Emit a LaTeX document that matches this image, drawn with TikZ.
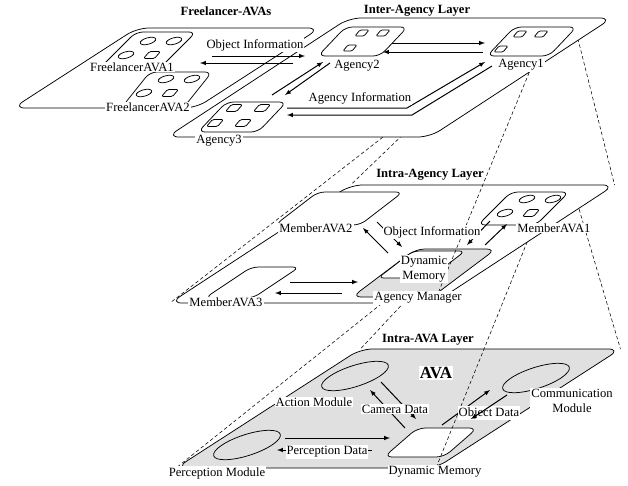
\documentclass[tikz,border=0pt]{standalone}
\usepackage{fontspec}
\setmainfont{Liberation Serif}
\usetikzlibrary{shapes.geometric}

\newcommand{\lblfont}{\fontsize{12.6}{15.5}\selectfont}
\newcommand{\ttlfont}{\fontsize{12.6}{15}\selectfont\bfseries}
\newcommand{\avafont}{\fontsize{17}{19}\selectfont\bfseries}

\tikzset{
  pics/slab/.style args={#1/#2/#3}{code={
      \coordinate (-bl) at (0,0);
      \coordinate (-br) at (#1,0);
      \coordinate (-tr) at ({#1+#2*#3},-#2);
      \coordinate (-tl) at ({#2*#3},-#2);
      \path[pic actions] (-bl) -- (-br) -- (-tr) -- (-tl) -- cycle;}},
  pics/cell/.style={code={
      \draw[rounded corners=1.2pt] (-7,3) -- (2,3) -- (7,-3) -- (-2,-3) -- cycle;}},
  pics/bigcell/.style={code={
      \draw[rounded corners=1.5pt] (-8.5,3.5) -- (2.5,3.5) -- (8.5,-3.5) -- (-2.5,-3.5) -- cycle;}},
  pics/avaicons/.style={code={
      \draw[rotate around={15:(0,0)}] (0,0) ellipse (8 and 3.2);
      \draw[rotate around={15:(26,0)}] (26,0) ellipse (8 and 3.2);
      \draw[rotate around={15:(-22,14)}] (-22,14) ellipse (8 and 3.2);
      \pic at (4,14) {bigcell};}}
}

\begin{document}
\begin{tikzpicture}[x=1pt, y=-1pt, line width=0.75pt,
    every node/.style={font=\lblfont, inner sep=1pt},
    lbl/.style={fill=white},
    ttl/.style={font=\ttlfont},
    arr/.style={-latex, line width=1pt},
    proj/.style={dash pattern=on 3.5pt off 2.5pt, line width=0.55pt},
    layerbox/.style={draw, fill=white, rounded corners=12pt},
    greybox/.style={draw, fill=black!12, rounded corners=12pt},
    agentbox/.style={draw, fill=white, rounded corners=7pt},
    modbox/.style={draw, ellipse, minimum width=70pt, minimum height=21pt, inner sep=0pt, rotate=18}]
  \useasboundingbox (0,0) rectangle (628,485);

  % intra-AVA layer
  \pic[greybox] (iav) at (176,468) {slab=260/119/1.55};
  \node[modbox] (act) at (355,376) {};
  \node[modbox] (per) at (247,445) {};
  \node[modbox] (com) at (536,378) {};
  \pic[agentbox, rounded corners=8pt] (dm) at (384,457) {slab=60/29/1.15};

  \coordinate (per-o) at (285,438);  \coordinate (dm-i1) at (390,438);
  \coordinate (dm-o1) at (372,450);  \coordinate (per-i) at (277,450);
  \coordinate (dm-o2) at (405,428);  \coordinate (act-i) at (370,390);
  \coordinate (act-o) at (381,382);  \coordinate (dm-i2) at (416,419);
  \coordinate (dm-o3) at (442,425);  \coordinate (com-i) at (490,390);
  \coordinate (com-o) at (507,395);  \coordinate (dm-i3) at (471,419);
  \draw[arr] (per-o) -- (dm-i1);
  \draw[arr] (dm-o1) -- (per-i);
  \draw[arr] (dm-o2) -- (act-i);
  \draw[arr] (act-o) -- (dm-i2);
  \draw[arr] (dm-o3) -- (com-i);

  % MemberAVA1 seen as the intra-AVA layer
  \coordinate (m1-bl) at (480,225);  \coordinate (m1-tl) at (507,192);
  \coordinate (m1-tr) at (574,192);  \coordinate (m1-br) at (534,225);
  \draw[proj] (m1-bl) -- (iav-bl);
  \draw[proj] (m1-tl) -- (iav-tl);
  \draw[proj] (m1-tr) -- (iav-tr);
  \draw[proj] (m1-br) -- (iav-br);

  \node[lbl] (actl) at (314,402) {Action Module};
  \node[lbl] (caml) at (395,409) {Camera Data};
  \node[lbl] (pdl)  at (327,452) {Perception Data};
  \node[lbl] (odl)  at (489,413) {Object Data};
  \node[lbl, align=center] (coml) at (572,401) {Communication\\Module};
  \node[lbl] (perl) at (217,473) {Perception Module};
  \node[lbl] (dml)  at (435,472) {Dynamic Memory};
  \node[lbl, font=\avafont] (ava) at (436,373) {AVA};
  \draw[arr] (com-o) -- (dm-i3);

  % intra-agency layer
  \pic[layerbox] (ial) at (170,303) {slab=264/118/1.53};
  \pic[agentbox] (mav2) at (275,225) {slab=85/33/1.3};
  \pic[agentbox] (mav3) at (205,298) {slab=48/31/1.5};
  \pic[agentbox] (mav1) at (478,225) {slab=58/33/1.0};
  \pic at (527,199) {avaicons};
  \pic[greybox, rounded corners=9pt] (am) at (352,297) {slab=80/48/1.33};
  \pic[agentbox, rounded corners=6pt] (amdm) at (378,278) {slab=52/27/1.3};

  \coordinate (am-o1) at (388,253);  \coordinate (m2-i) at (363,228);
  \coordinate (m2-o)  at (377,222);  \coordinate (am-i1) at (402,247);
  \coordinate (m1-o)  at (490,221);  \coordinate (am-i2) at (467,245);
  \coordinate (am-o2) at (485,245);  \coordinate (m1-i) at (507,224);
  \coordinate (m3-o)  at (290,282);  \coordinate (am-i3) at (358,282);
  \coordinate (am-o3) at (342,293);  \coordinate (m3-i) at (275,293);
  \draw[arr] (am-o1) -- (m2-i);
  \draw[arr] (m2-o) -- (am-i1);
  \draw[arr] (m1-o) -- (am-i2);
  \draw[arr] (am-o2) -- (m1-i);
  \draw[arr] (m3-o) -- (am-i3);
  \draw[arr] (am-o3) -- (m3-i);

  % Agency1 seen as the intra-agency layer
  \coordinate (a1-bl) at (487,56);  \coordinate (a1-tl) at (515,27);
  \coordinate (a1-tr) at (575,27);  \coordinate (a1-br) at (536,56);
  \draw[proj] (a1-bl) -- (ial-bl);
  \draw[proj] (a1-tl) -- (ial-tl);
  \draw[proj] (a1-tr) -- (ial-tr);
  \draw[proj] (a1-br) -- (ial-br);

  \node[lbl] (oil2) at (432,232) {Object Information};
  \node[lbl, align=center] (amdml) at (424,269) {Dynamic\\Memory};
  \node[lbl] (aml)  at (418,298) {Agency Manager};
  \node[lbl] (m2l)  at (316,228) {MemberAVA2};
  \node[lbl] (m3l)  at (226,302) {MemberAVA3};
  \node[lbl] (m1l)  at (554,228) {MemberAVA1};

  % inter-agency layer and freelancers
  \pic[layerbox] (ia) at (167,137) {slab=263/119/1.53};
  \pic[layerbox] (fl) at (13,108) {slab=183/80/1.55};

  \pic[agentbox] (fa1) at (98,70) {slab=60/38/1.0};
  \pic at (148,41) {avaicons};
  \pic[agentbox] (fa2) at (122,107) {slab=62/35/0.8};
  \pic at (166,79) {avaicons};

  \pic[agentbox] (ag2) at (318,56) {slab=62/29/0.95};
  \pic at (362,33) {cell};  \pic at (383,33) {cell};  \pic at (350,48) {cell};
  \pic[agentbox] (ag1) at (487,56) {slab=62/29/0.95};
  \pic at (520,34) {cell};  \pic at (541,34) {cell};  \pic at (501,49) {cell};
  \pic[agentbox] (ag3) at (198,132) {slab=60/30/0.95};
  \pic at (234,108) {bigcell};  \pic at (262,108) {bigcell};
  \pic at (215,123) {bigcell};  \pic at (243,123) {bigcell};

  \coordinate (fl-o)  at (212,56);  \coordinate (a2-i1) at (305,56);
  \coordinate (a2-o1) at (293,63);  \coordinate (fl-i)  at (200,63);
  \coordinate (a2-o2) at (392,43);  \coordinate (a1-i1) at (485,43);
  \coordinate (a1-o1) at (483,52);  \coordinate (a2-i2) at (383,52);
  \coordinate (a3-o1) at (272,95);  \coordinate (a2-i3) at (323,62);
  \coordinate (a2-o3) at (330,63);  \coordinate (a3-i1) at (285,95);
  \coordinate (a3-o2) at (287,108); \coordinate (bend1) at (407,108); \coordinate (a1-i2) at (485,62);
  \coordinate (a1-o2) at (492,66);  \coordinate (bend2) at (412,115); \coordinate (a3-i2) at (287,115);
  \draw[arr] (fl-o) -- (a2-i1);
  \draw[arr] (a2-o1) -- (fl-i);
  \draw[arr] (a2-o2) -- (a1-i1);
  \draw[arr] (a1-o1) -- (a2-i2);
  \draw[arr] (a3-o1) -- (a2-i3);
  \draw[arr] (a2-o3) -- (a3-i1);
  \draw[arr] (a3-o2) -- (bend1) -- (a1-i2);
  \draw[arr] (a1-o2) -- (bend2) -- (a3-i2);

  \node[lbl] (fa1l) at (132,67) {FreelancerAVA1};
  \node[lbl] (fa2l) at (148,107) {FreelancerAVA2};
  \node[lbl] (ag2l) at (357,66) {Agency2};
  \node[lbl] (ag1l) at (521,65) {Agency1};
  \node[lbl] (ag3l) at (219,141) {Agency3};
  \node[lbl] (oil1) at (255,45) {Object Information};
  \node[lbl] (ail)  at (360,98) {Agency Information};

  % titles
  \node[ttl] (t-fl)  at (226,11) {Freelancer-AVAs};
  \node[ttl] (t-ia)  at (417,11) {Inter-Agency Layer};
  \node[ttl] (t-ial) at (430,175) {Intra-Agency Layer};
  \node[ttl] (t-iav) at (428,340) {Intra-AVA Layer};
\end{tikzpicture}
\end{document}
